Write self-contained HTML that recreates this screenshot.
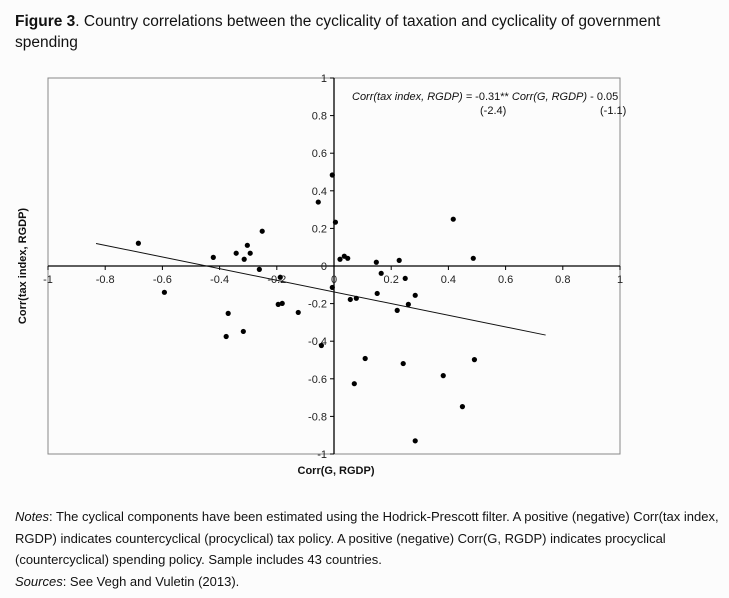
<!DOCTYPE html>
<html><head><meta charset="utf-8"><style>
body{margin:0;background:#fcfcfc;width:729px;height:598px;overflow:hidden;font-family:"Liberation Sans",Arial,sans-serif;color:#111}
#title{position:absolute;left:15px;top:11px;font-size:15.5px;line-height:21px;width:700px}
#notes{position:absolute;left:15px;top:506px;font-size:13px;line-height:21.7px;width:712px}
svg{position:absolute;left:0;top:0}
</style></head><body>
<div id="title"><b>Figure 3</b>. Country correlations between the cyclicality of taxation and cyclicality of government spending</div>
<svg id="chart" width="729" height="598"></svg>
<div id="notes"><i>Notes</i>: The cyclical components have been estimated using the Hodrick-Prescott filter. A positive (negative) Corr(tax index, RGDP) indicates countercyclical (procyclical) tax policy. A positive (negative) Corr(G, RGDP) indicates procyclical (countercyclical) spending policy. Sample includes 43 countries.<br><i>Sources</i>: See Vegh and Vuletin (2013).</div>
<script>
const xTicks=[-1,-0.8,-0.6,-0.4,-0.2,0,0.2,0.4,0.6,0.8,1];
const yTicks=[-1,-0.8,-0.6,-0.4,-0.2,0,0.2,0.4,0.6,0.8,1];
const xTickLabels=["-1","-0.8","-0.6","-0.4","-0.2","0","0.2","0.4","0.6","0.8","1"];
const yTickLabels=["-1","-0.8","-0.6","-0.4","-0.2","0","0.2","0.4","0.6","0.8","1"];
const corrG=[-0.684,-0.593,-0.422,-0.342,-0.314,-0.303,-0.293,-0.251,-0.261,-0.188,-0.195,-0.181,-0.125,-0.370,-0.377,-0.317,-0.055,-0.006,0.005,-0.006,-0.044,
0.021,0.036,0.048,0.148,0.228,0.417,0.487,0.165,0.249,0.151,0.284,0.057,0.078,0.26,0.221,0.109,0.242,0.491,0.071,0.382,0.449,0.284];
const corrTax=[0.121,-0.14,0.046,0.068,0.036,0.110,0.068,0.185,-0.018,-0.06,-0.204,-0.199,-0.247,-0.252,-0.375,-0.348,0.34,0.484,0.233,-0.114,-0.423,
0.036,0.052,0.041,0.02,0.03,0.249,0.041,-0.039,-0.066,-0.146,-0.156,-0.178,-0.172,-0.204,-0.236,-0.492,-0.519,-0.498,-0.626,-0.583,-0.748,-0.93];
const fitSlope=-0.31, fitIntercept=-0.138;
const fitRange=[-0.832,0.74];

const NS="http://www.w3.org/2000/svg";
const svg=document.getElementById('chart');
const X0=48,X1=620,Y0=454,Y1=78;
const sx=v=>X0+(v+1)/2*(X1-X0);
const sy=v=>Y0-(v+1)/2*(Y0-Y1);
function mk(t,a,p){const e=document.createElementNS(NS,t);for(const k in a)e.setAttribute(k,a[k]);(p||svg).appendChild(e);return e;}
const frame=mk('rect',{x:X0,y:Y1,width:X1-X0,height:Y0-Y1,fill:'none',stroke:'#888','stroke-width':1});


const xa=mk('line',{x1:X0,x2:X1,y1:sy(0),y2:sy(0),stroke:'#000','stroke-width':1.3});


const ya=mk('line',{x1:sx(0),x2:sx(0),y1:Y1,y2:Y0,stroke:'#000','stroke-width':1.3});


xTicks.forEach((v,i)=>{
  mk('line',{x1:sx(v),x2:sx(v),y1:sy(0),y2:sy(0)+4,stroke:'#000'});
  const t=mk('text',{x:sx(v),y:sy(0)+17,'text-anchor':'middle','font-size':11,fill:'#222'});
  t.textContent=xTickLabels[i];
  
  
});
yTicks.forEach((v,i)=>{
  mk('line',{x1:sx(0)-4,x2:sx(0),y1:sy(v),y2:sy(v),stroke:'#000'});
  const t=mk('text',{x:sx(0)-7,y:sy(v)+4,'text-anchor':'end','font-size':11,fill:'#222'});
  t.textContent=yTickLabels[i];
  
  
});
const fl=mk('line',{x1:sx(fitRange[0]),y1:sy(fitSlope*fitRange[0]+fitIntercept),x2:sx(fitRange[1]),y2:sy(fitSlope*fitRange[1]+fitIntercept),stroke:'#111','stroke-width':1});


corrG.forEach((g,i)=>{
  const c=mk('circle',{cx:sx(g),cy:sy(corrTax[i]),r:2.6,fill:'#000'});
  
  
});
const eq=mk('text',{x:352,y:100,'font-size':11,'font-style':'italic',fill:'#111'});
eq.innerHTML='Corr(tax index, RGDP) = <tspan font-style="normal">-0.31** </tspan>Corr(G, RGDP)<tspan font-style="normal"> - 0.05</tspan>';


const s1=mk('text',{x:480,y:114,'font-size':11,fill:'#111'});s1.textContent='(-2.4)';


const s2=mk('text',{x:600,y:114,'font-size':11,fill:'#111'});s2.textContent='(-1.1)';


const xt=mk('text',{x:336,y:474,'text-anchor':'middle','font-size':11,'font-weight':'bold',fill:'#111'});xt.textContent='Corr(G, RGDP)';


const yt=mk('text',{x:0,y:0,'text-anchor':'middle','font-size':11,'font-weight':'bold',fill:'#111',transform:'translate(26,266) rotate(-90)'});yt.textContent='Corr(tax index, RGDP)';


</script>
</body></html>
